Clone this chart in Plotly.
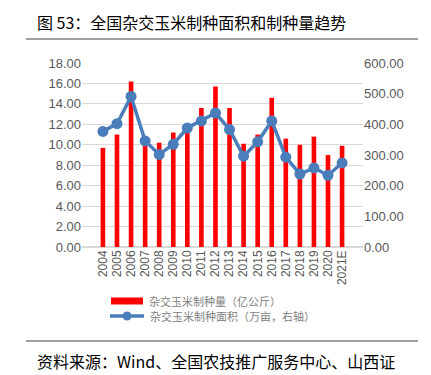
import plotly.graph_objects as go

years = ["2004", "2005", "2006", "2007", "2008", "2009", "2010", "2011", "2012",
         "2013", "2014", "2015", "2016", "2017", "2018", "2019", "2020", "2021E"]
seed_output = [9.7, 11.0, 16.2, 10.4, 10.2, 11.2, 11.7, 13.6, 15.7,
               13.6, 10.1, 11.0, 14.6, 10.6, 10.0, 10.8, 9.0, 9.9]
seed_area = [377, 402, 491, 346, 302, 335, 388, 411, 437,
             383, 296, 343, 411, 293, 238, 258, 234, 274]
name_bar = "杂交玉米制种量（亿公斤）"
name_line = "杂交玉米制种面积（万亩，右轴）"

W, H = 431, 375
L, R, T, B = 74, 76, 55, 136
Y0 = H - B          # pixel row of the zero line
Y1 = T              # pixel row of the top gridline
BLUE = "#4A7EBB"

fig = go.Figure()
fig.add_trace(go.Bar(
    x=years, y=seed_output, name=name_bar,
    marker=dict(color="#FF0000", line=dict(width=0)), width=0.33, yaxis="y"))
fig.add_trace(go.Scatter(
    x=years, y=seed_area, name=name_line,
    mode="lines+markers", yaxis="y2",
    line=dict(color=BLUE, width=3.5),
    marker=dict(color=BLUE, size=11)))

tickfont = dict(family="Liberation Sans, Arial", size=13, color="#595959")
fig.update_layout(
    width=W, height=H, margin=dict(l=L, r=R, t=T, b=B, autoexpand=False),
    paper_bgcolor="white", plot_bgcolor="white",
    showlegend=False,
    xaxis=dict(type="category", tickangle=-90,
               tickfont=dict(family="Liberation Sans, Arial", size=12, color="#595959"),
               showgrid=False, showline=False, ticks="", automargin=False),
    yaxis=dict(range=[0, 18], dtick=2, tickformat=".2f", tickfont=tickfont,
               showgrid=True, gridcolor="#D9D9D9", gridwidth=1, zeroline=True,
               zerolinecolor="#D9D9D9", showline=False, ticks="", automargin=False),
    yaxis2=dict(range=[0, 600], dtick=100, tickformat=".2f", tickfont=tickfont,
                overlaying="y", side="right", showgrid=False, zeroline=False,
                showline=False, ticks="", automargin=False),
    font=dict(family="Noto Sans CJK SC"),
)

def px2x(px):
    return (px - L) / (W - L - R)

def py2y(py):
    return (Y0 - py) / (Y0 - Y1)

fig.add_annotation(text="图 53：全国杂交玉米制种面积和制种量趋势", xref="paper", yref="paper",
                   x=px2x(27), y=py2y(14), xanchor="left", yanchor="middle", showarrow=False,
                   font=dict(family="Noto Sans CJK SC", size=16, color="#000000"))
fig.add_annotation(text="资料来源：Wind、全国农技推广服务中心、山西证", xref="paper", yref="paper",
                   x=px2x(27), y=py2y(353), xanchor="left", yanchor="middle", showarrow=False,
                   font=dict(family="Noto Sans CJK SC", size=16, color="#000000"))

for x0, x1 in [(18, 410), (428, 431)]:
    fig.add_shape(type="line", xref="paper", yref="paper", x0=px2x(x0), x1=px2x(x1),
                  y0=py2y(31), y1=py2y(31), line=dict(color="#404040", width=1))
    fig.add_shape(type="line", xref="paper", yref="paper", x0=px2x(x0), x1=px2x(x1),
                  y0=py2y(333), y1=py2y(333), line=dict(color="#808080", width=1.5))

# legend (drawn manually to match the wide swatch)
fig.add_shape(type="rect", xref="paper", yref="paper", x0=px2x(103), x1=px2x(135),
              y0=py2y(296.5), y1=py2y(289.5), fillcolor="#FF0000", line=dict(width=0))
fig.add_annotation(text=name_bar, xref="paper", yref="paper", x=px2x(139), y=py2y(293),
                   xanchor="left", yanchor="middle", showarrow=False,
                   font=dict(family="Noto Sans CJK SC", size=11, color="#808080"))
fig.add_shape(type="line", xref="paper", yref="paper", x0=px2x(102), x1=px2x(136),
              y0=py2y(308), y1=py2y(308), line=dict(color=BLUE, width=3.5))
fig.add_shape(type="circle", xref="paper", yref="paper", x0=px2x(114.5), x1=px2x(123.5),
              y0=py2y(312.5), y1=py2y(303.5), fillcolor=BLUE, line=dict(width=0))
fig.add_annotation(text=name_line, xref="paper", yref="paper", x=px2x(140), y=py2y(308),
                   xanchor="left", yanchor="middle", showarrow=False,
                   font=dict(family="Noto Sans CJK SC", size=11, color="#808080"))

fig.write_html("out.html")
